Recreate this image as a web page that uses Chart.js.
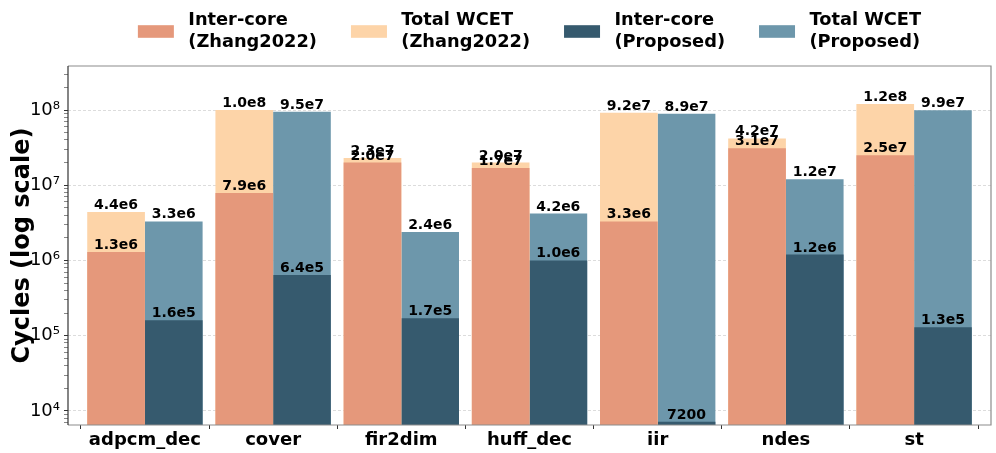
<!DOCTYPE html>
<html>
<head>
<meta charset="utf-8">
<script src="https://cdn.jsdelivr.net/npm/chart.js@4/dist/chart.umd.min.js"></script>
<style>
  html, body { margin: 0; padding: 0; background: #fff; }
</style>
</head>
<body>
<canvas id="chart" width="996" height="453"></canvas>
<script>
// benchmarks and cycles
var benchmarks = ['adpcm_dec', 'cover', 'fir2dim', 'huff_dec', 'iir', 'ndes', 'st'];
var interZhang = [1.3e6, 7.9e6, 2.0e7, 1.7e7, 3.3e6, 3.1e7, 2.5e7];
var totalZhang = [4.4e6, 1.0e8, 2.3e7, 2.0e7, 9.2e7, 4.2e7, 1.2e8];
var interProposed = [1.6e5, 6.4e5, 1.7e5, 1.0e6, 7200, 1.2e6, 1.3e5];
var totalProposed = [3.3e6, 9.5e7, 2.4e6, 4.2e6, 8.9e7, 1.2e7, 9.9e7];
var yMajorTicks = [1e4, 1e5, 1e6, 1e7, 1e8];

var FONT = '"DejaVu Sans", "Liberation Sans", sans-serif';
var SUP = { '4': '\u2074', '5': '\u2075', '6': '\u2076', '7': '\u2077', '8': '\u2078' };

// minor ticks 2..9 x 10^n inside the axis range
var yAllTicks = [];
for (var e = 3; e <= 8; e++) {
    for (var m = 1; m <= 9; m++) {
        var v = m * Math.pow(10, e);
        if (v >= 6.5e3 && v <= 3.85e8) yAllTicks.push(v);
    }
}

function isMajor(v) {
    return yMajorTicks.some(function (t) { return Math.abs(t - v) < t * 1e-6; });
}

function fmt(v) {
    if (v < 1e4) return String(v);
    return v.toExponential(1).replace('e+', 'e');
}

function points(arr) {
    return arr.map(function (v, i) { return { x: i, y: v }; });
}

// same stack name = same slot, inter-core drawn over total
var datasets = [
    { label: ['Inter-core', '(Zhang2022)'], data: points(interZhang), backgroundColor: '#e5987b', stack: 'zhang' },
    { label: ['Total WCET', '(Zhang2022)'], data: points(totalZhang), backgroundColor: '#fdd4a8', stack: 'zhang' },
    { label: ['Inter-core', '(Proposed)'], data: points(interProposed), backgroundColor: '#365a6e', stack: 'proposed' },
    { label: ['Total WCET', '(Proposed)'], data: points(totalProposed), backgroundColor: '#6d97ab', stack: 'proposed' }
];

// значения над столбиками
var valueLabels = {
    id: 'valueLabels',
    afterDatasetsDraw: function (chart) {
        var ctx = chart.ctx;
        ctx.save();
        ctx.font = 'bold 14px ' + FONT;
        ctx.fillStyle = '#000';
        ctx.textAlign = 'center';
        ctx.textBaseline = 'alphabetic';
        chart.data.datasets.forEach(function (ds, di) {
            chart.getDatasetMeta(di).data.forEach(function (bar, i) {
                ctx.fillText(fmt(ds.data[i].y), bar.x, bar.y - 3);
            });
        });
        ctx.restore();
    }
};

// frame + legend in two-line matplotlib style
var frameLegend = {
    id: 'frameLegend',
    afterDraw: function (chart) {
        var ctx = chart.ctx;
        var a = chart.chartArea;
        ctx.save();
        ctx.lineWidth = 1.2;
        ctx.strokeStyle = '#8c8c8c';
        ctx.beginPath();
        ctx.moveTo(a.left, a.top); ctx.lineTo(a.right, a.top);
        ctx.lineTo(a.right, a.bottom); ctx.lineTo(a.left, a.bottom);
        ctx.stroke();
        ctx.strokeStyle = '#333';
        ctx.beginPath();
        ctx.moveTo(a.left, a.top); ctx.lineTo(a.left, a.bottom);
        ctx.stroke();

        ctx.font = 'bold 17.8px ' + FONT;
        var boxW = 36, boxH = 12.6, pad = 14.4, gap = 34;
        var widths = chart.data.datasets.map(function (ds) {
            return boxW + pad + Math.max.apply(null, ds.label.map(function (t) { return ctx.measureText(t).width; }));
        });
        var total = widths.reduce(function (s, w) { return s + w; }, 0) + gap * (widths.length - 1);
        var x = (a.left + a.right) / 2 - total / 2;
        var cy = 31.5;
        ctx.textAlign = 'left';
        ctx.textBaseline = 'middle';
        chart.data.datasets.forEach(function (ds, i) {
            ctx.fillStyle = ds.backgroundColor;
            ctx.fillRect(x, cy - boxH / 2, boxW, boxH);
            ctx.fillStyle = '#000';
            ctx.fillText(ds.label[0], x + boxW + pad, cy - 10.8);
            ctx.fillText(ds.label[1], x + boxW + pad, cy + 10.8);
            x += widths[i] + gap;
        });
        ctx.restore();
    }
};

var ctx = document.getElementById('chart').getContext('2d');
var myChart = new Chart(ctx, {
    type: 'bar',
    data: { datasets: datasets },
    plugins: [valueLabels, frameLegend],
    options: {
        responsive: false,
        animation: false,
        layout: { padding: { top: 66, right: 5, left: 0, bottom: 0 } },
        datasets: { bar: { categoryPercentage: 0.9, barPercentage: 1.0, borderWidth: 0 } },
        plugins: {
            legend: { display: false },
            tooltip: { enabled: false }
        },
        scales: {
            x: {
                type: 'linear',
                min: -0.6,
                max: 6.6,
                offset: false,
                afterBuildTicks: function (s) {
                    s.ticks = benchmarks.map(function (_, i) { return { value: i }; });
                },
                afterFit: function (s) { s.height = 28; },
                ticks: {
                    autoSkip: false,
                    maxRotation: 0,
                    padding: 1,
                    color: '#000',
                    font: { family: FONT, size: 18, weight: 'bold' },
                    callback: function (v) { return benchmarks[v]; }
                },
                grid: { drawOnChartArea: false, drawTicks: true, tickLength: 4, tickColor: '#333' },
                border: { display: false }
            },
            y: {
                type: 'logarithmic',
                min: 6.5e3,
                max: 3.85e8,
                stacked: false,
                afterBuildTicks: function (s) {
                    s.ticks = yAllTicks.map(function (v) { return { value: v, major: isMajor(v) }; });
                },
                afterFit: function (s) { s.width = 68; },
                ticks: {
                    autoSkip: false,
                    padding: 4,
                    color: '#000',
                    font: { family: FONT, size: 18 },
                    callback: function (v) {
                        if (!isMajor(v)) return '';
                        var exp = String(Math.round(Math.log10(v)));
                        return '10' + SUP[exp];
                    }
                },
                grid: {
                    color: function (c) { return c.tick && isMajor(c.tick.value) ? '#dcdcdc' : 'rgba(0,0,0,0)'; },
                    lineWidth: 1,
                    tickLength: 4,
                    tickColor: function (c) { return c.tick && isMajor(c.tick.value) ? '#333' : '#888'; }
                },
                border: { display: false, dash: [3, 2] },
                title: {
                    display: true,
                    text: 'Cycles (log scale)',
                    color: '#000',
                    font: { family: FONT, size: 24, weight: 'bold' },
                    padding: { top: 8, bottom: 0 }
                }
            }
        }
    }
});
</script>
</body>
</html>
